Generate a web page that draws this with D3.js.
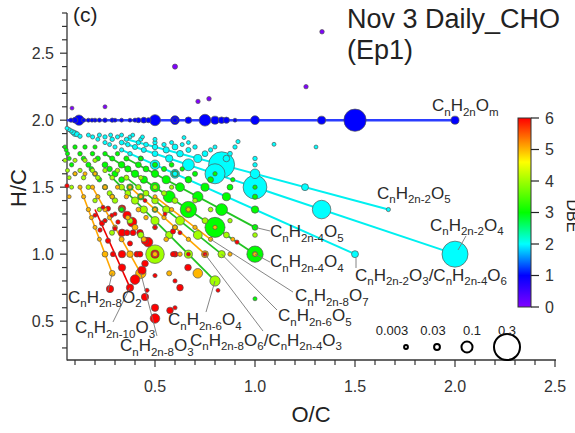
<!DOCTYPE html>
<html><head><meta charset="utf-8">
<script src="https://cdn.jsdelivr.net/npm/d3@7"></script>
<style>body{margin:0;background:#fff}svg{display:block;font-family:Arial,"Liberation Sans",sans-serif}</style>
</head><body><svg id="c" width="575" height="433"></svg>
<script>
// ---------- DATA ----------
const xTickLabels = [0.5, 1.0, 1.5, 2.0, 2.5];
const yTickLabels = [0.5, 1.0, 1.5, 2.0, 2.5];
const dbeTicks = [0, 1, 2, 3, 4, 5, 6];
const sizeLegend = [0.003, 0.03, 0.1, 0.3];

// [O/C, H/C, fraction]
const dbe0Points = [[0.085,2.09,0.004],[0.25,2.10,0.005],[0.6,2.40,0.02],[0.715,2.14,0.01],[0.77,2.16,0.012],[1.335,2.66,0.012],[1.255,2.25,0.01]];
const dbe1Points = [[0.08,2.0,0.01],[0.10,2.0,0.03],[0.12,2.0,0.09],[0.143,2.0,0.008],[0.167,2.0,0.006],[0.185,2.0,0.005],[0.2,2.0,0.006],[0.222,2.0,0.008],[0.25,2.0,0.012],[0.286,2.0,0.01],[0.3,2.0,0.004],[0.333,2.0,0.005],[0.375,2.0,0.004],[0.4,2.0,0.008],[0.417,2.0,0.02],[0.444,2.0,0.03],[0.467,2.0,0.02],[0.5,2.0,0.1],[0.6,2.0,0.07],[0.6,2.0,0.02],[0.667,2.0,0.04],[0.75,2.0,0.11],[0.8,2.0,0.06],[0.833,2.0,0.04],[0.857,2.0,0.035],[0.9,2.0,0.004],[1.0,2.0,0.07],[1.333,2.0,0.06],[1.5,2.0,0.25],[2.0,2.0,0.06]];
const dbe2Points = [[0.06,1.94,0.005],[0.07,1.93,0.008],[0.08,1.92,0.01],[0.09,1.91,0.02],[0.1,1.9,0.03],[0.11,1.895,0.02],[0.125,1.88,0.01],
[0.167,1.889,0.006],[0.222,1.889,0.008],[0.278,1.889,0.006],[0.333,1.889,0.005],[0.389,1.889,0.004],
[0.188,1.875,0.008],[0.25,1.875,0.01],[0.3125,1.875,0.008],[0.375,1.875,0.006],[0.4375,1.875,0.005],
[0.214,1.857,0.006],[0.286,1.857,0.012],[0.357,1.857,0.01],[0.429,1.857,0.008],[0.5,1.857,0.006],
[0.25,1.833,0.008],[0.333,1.833,0.015],[0.417,1.833,0.012],[0.5,1.833,0.01],[0.583,1.833,0.006],[0.667,1.833,0.004],
[0.273,1.818,0.006],[0.364,1.818,0.012],[0.455,1.818,0.015],[0.545,1.818,0.01],[0.636,1.818,0.006],
[0.3,1.8,0.008],[0.4,1.8,0.02],[0.5,1.8,0.025],[0.6,1.8,0.03],[0.7,1.8,0.012],[0.8,1.8,0.006],
[0.333,1.778,0.01],[0.444,1.778,0.02],[0.556,1.778,0.035],[0.667,1.778,0.02],[0.778,1.778,0.01],
[0.375,1.75,0.012],[0.5,1.75,0.03],[0.625,1.75,0.04],[0.75,1.75,0.03],[0.875,1.75,0.015],
[0.429,1.714,0.02],[0.571,1.714,0.05],[0.714,1.714,0.06],[0.857,1.714,0.04],[1.0,1.714,0.012],
[0.5,1.667,0.08],[0.667,1.667,0.11],[0.833,1.667,0.3],[1.0,1.667,0.012],
[0.6,1.6,0.07],[0.6,1.6,0.02],[0.8,1.6,0.22],[1.0,1.6,0.08],
[1.0,1.5,0.27],[1.25,1.5,0.045],[1.333,1.333,0.2],[1.667,1.333,0.008],[1.5,1.0,0.045],[2.0,1.0,0.3],
[0.645,1.87,0.005],[0.9,1.8,0.01],[0.915,1.84,0.008],[1.095,1.82,0.005],[1.305,1.8,0.004]];
const dbe3Points = [[0.05,1.8,0.006],[0.0625,1.75,0.008],[0.071,1.714,0.006],[0.083,1.667,0.01],[0.1,1.6,0.008],[0.056,1.778,0.005],
[0.1,1.8,0.01],[0.125,1.75,0.012],[0.143,1.714,0.015],[0.167,1.667,0.02],[0.182,1.636,0.015],[0.2,1.6,0.02],[0.222,1.556,0.015],[0.25,1.5,0.02],[0.286,1.429,0.015],[0.333,1.333,0.01],
[0.15,1.8,0.01],[0.1875,1.75,0.012],[0.214,1.714,0.02],[0.25,1.667,0.03],[0.273,1.636,0.025],[0.3,1.6,0.035],[0.333,1.556,0.03],[0.375,1.5,0.04],[0.429,1.429,0.04],[0.5,1.333,0.03],[0.6,1.2,0.02],
[0.2,1.8,0.008],[0.25,1.75,0.012],[0.286,1.714,0.02],[0.333,1.667,0.04],[0.364,1.636,0.035],[0.4,1.6,0.05],[0.444,1.556,0.05],[0.5,1.5,0.08],[0.571,1.429,0.11],[0.667,1.333,0.17],[0.8,1.2,0.22],[1.0,1.0,0.17],
[0.3125,1.75,0.01],[0.357,1.714,0.02],[0.417,1.667,0.03],[0.455,1.636,0.03],[0.5,1.6,0.05],[0.556,1.556,0.06],[0.625,1.5,0.07],[0.714,1.429,0.09],[0.833,1.333,0.11],[1.0,1.2,0.03],
[0.429,1.714,0.012],[0.5,1.667,0.02],[0.545,1.636,0.02],[0.6,1.6,0.04],[0.667,1.556,0.04],[0.75,1.5,0.06],[0.857,1.429,0.06],[1.0,1.333,0.05],
[0.583,1.667,0.015],[0.636,1.636,0.012],[0.7,1.6,0.02],[0.778,1.556,0.03],[0.875,1.5,0.03],[1.0,1.429,0.02],
[0.8,1.6,0.01],[0.889,1.556,0.01],[1.0,1.5,0.01],[1.0,0.667,0.006]];
const dbe4Points = [[0.05,1.7,0.005],[0.0625,1.625,0.006],[0.071,1.571,0.005],[0.083,1.5,0.006],
[0.1,1.7,0.008],[0.125,1.625,0.01],[0.143,1.571,0.012],[0.167,1.5,0.015],[0.2,1.4,0.012],[0.222,1.333,0.01],[0.25,1.25,0.008],
[0.15,1.7,0.01],[0.1875,1.625,0.012],[0.214,1.571,0.015],[0.25,1.5,0.02],[0.273,1.455,0.02],[0.3,1.4,0.025],[0.333,1.333,0.03],[0.375,1.25,0.03],[0.429,1.143,0.035],[0.5,1.0,0.2],
[0.2,1.7,0.01],[0.25,1.625,0.012],[0.286,1.571,0.015],[0.333,1.5,0.03],[0.364,1.455,0.03],[0.4,1.4,0.05],[0.444,1.333,0.05],[0.5,1.25,0.06],[0.571,1.143,0.05],[0.667,1.0,0.06],[0.8,0.8,0.09],
[0.3125,1.625,0.012],[0.357,1.571,0.02],[0.417,1.5,0.025],[0.455,1.455,0.03],[0.5,1.4,0.04],[0.556,1.333,0.05],[0.625,1.25,0.07],[0.714,1.143,0.07],[0.833,1.0,0.05],
[0.429,1.571,0.012],[0.5,1.5,0.02],[0.545,1.455,0.02],[0.6,1.4,0.03],[0.667,1.333,0.03],[0.75,1.25,0.03],[0.857,1.143,0.03],[1.0,1.0,0.02],
[0.583,1.5,0.01],[0.7,1.4,0.015],[0.778,1.333,0.015],[0.875,1.25,0.012],[1.0,1.143,0.015],[0.285,1.16,0.02]];
const dbe5Points = [[0.071,1.429,0.004],
[0.1,1.6,0.006],[0.125,1.5,0.008],[0.143,1.429,0.008],[0.167,1.333,0.01],[0.182,1.273,0.008],[0.2,1.2,0.006],[0.222,1.111,0.006],[0.25,1.0,0.03],[0.286,0.857,0.03],
[0.15,1.6,0.006],[0.1875,1.5,0.01],[0.214,1.429,0.01],[0.25,1.333,0.012],[0.273,1.273,0.012],[0.3,1.2,0.015],[0.333,1.111,0.02],[0.375,1.0,0.04],[0.429,0.857,0.09],
[0.2,1.6,0.006],[0.25,1.5,0.01],[0.286,1.429,0.012],[0.333,1.333,0.015],[0.364,1.273,0.015],[0.4,1.2,0.03],[0.444,1.111,0.02],[0.5,1.0,0.02],[0.571,0.857,0.02],
[0.3125,1.5,0.008],[0.357,1.429,0.01],[0.417,1.333,0.015],[0.455,1.273,0.012],[0.5,1.2,0.015],[0.556,1.111,0.015],[0.625,1.0,0.012],[0.714,0.857,0.08],
[0.375,1.5,0.008],[0.429,1.429,0.008],[0.5,1.333,0.01],[0.545,1.273,0.01],[0.6,1.2,0.012],[0.667,1.111,0.01],[0.75,1.0,0.045],
[0.5,1.429,0.006],[0.583,1.333,0.008],[0.7,1.2,0.01],[0.778,1.111,0.01],[0.875,1.0,0.008],
[0.667,1.333,0.01],[0.8,1.2,0.008],[0.889,1.111,0.006],[1.0,1.0,0.01]];
const dbe6Points = [[0.06,1.51,0.01],
[0.2,1.29,0.006],[0.235,1.23,0.02],[0.265,1.34,0.02],[0.225,1.18,0.01],[0.265,1.10,0.02],[0.335,1.34,0.05],[0.36,1.29,0.06],[0.385,1.24,0.08],[0.315,1.24,0.01],[0.335,1.16,0.05],[0.36,1.16,0.03],[0.39,1.16,0.03],[0.425,1.16,0.04],[0.375,1.08,0.02],[0.45,1.1,0.05],[0.465,1.09,0.08],[0.335,1.0,0.05],[0.29,1.0,0.02],[0.41,1.0,0.03],[0.425,1.0,0.03],[0.5,1.0,0.06],[0.335,0.9,0.05],[0.4,0.81,0.08],[0.45,0.93,0.04],[0.435,0.88,0.06],[0.3,1.19,0.008],[0.285,1.29,0.008],[0.24,1.35,0.006],
[0.275,0.74,0.05],[0.375,0.75,0.05],[0.45,0.68,0.05],[0.46,0.73,0.008],[0.5,0.6,0.05],[0.5,0.52,0.08],[0.575,0.58,0.04],[0.6,0.6,0.008],[0.5,0.84,0.008],[0.6,0.8,0.008],[0.625,0.75,0.04],[0.665,0.9,0.04],[0.815,0.73,0.004],[0.59,1.0,0.02],[0.667,1.0,0.004],[0.6,1.0,0.03],[0.59,1.17,0.02],[0.625,1.16,0.006],[0.91,1.09,0.008],[0.75,1.0,0.006],[0.5,1.2,0.006],[0.25,1.25,0.006],[0.3,1.3,0.006],[0.45,1.4,0.004],[0.55,1.3,0.004]];

// homologous-series lines: [name, dbe colour class, start [O/C,H/C], end [O/C,H/C]]
const seriesNames = ["CnH2nOm","CnH2n-2O5","CnH2n-2O4","CnH2n-2O3","CnH2n-4O5","CnH2n-4O4","CnH2n-8O6","CnH2n-6O5","CnH2n-6O4","CnH2n-8O7","CnH2n-8O3","CnH2n-8O2","CnH2n-10O3"];
const seriesClass = ["blue","cyan","cyan","cyan","green","green","orange","green","green","orange","orange","orange","red"];
const seriesStart = [[0.06,2.0],[0.357,1.857],[0.333,1.833],[0.333,1.778],[0.357,1.714],[0.25,1.75],[0.375,1.5],[0.357,1.571],[0.267,1.6],[0.5,1.429],[0.19,1.493],[0.125,1.5],[0.2,1.333]];
const seriesEnd = [[2.0,2.0],[1.667,1.333],[2.0,1.0],[1.5,1.0],[1.0,1.2],[1.0,1.0],[0.75,1.0],[0.833,1.0],[0.8,0.8],[0.778,1.111],[0.429,0.857],[0.286,0.857],[0.375,0.75]];

// annotations: text ({} = subscript), text anchor [O/C,H/C], leader from [O/C,H/C] to [O/C,H/C]
const annText = ["C{n}H{2n}O{m}","C{n}H{2n-2}O{5}","C{n}H{2n-2}O{4}","C{n}H{2n-2}O{3}/C{n}H{2n-4}O{6}","C{n}H{2n-8}O{7}","C{n}H{2n-6}O{5}","C{n}H{2n-8}O{6}/C{n}H{2n-4}O{3}","C{n}H{2n-8}O{3}","C{n}H{2n-10}O{3}","C{n}H{2n-8}O{2}","C{n}H{2n-6}O{4}","C{n}H{2n-4}O{5}","C{n}H{2n-4}O{4}"];
const annAt = [[1.885,2.068],[1.61,1.412],[1.875,1.173],[1.5,0.800],[1.2,0.650],[1.115,0.501],[0.675,0.3145],[0.325,0.277],[0.1,0.4115],[0.065,0.6355],[0.565,0.471],[1.075,1.128],[1.075,0.904]];
const leaderFrom = [null,null,[2.015,1.031],[1.505,0.971],[0.778,1.111],[0.833,1.0],[0.75,1.0],[0.429,0.857],[0.375,0.75],[0.286,0.857],[0.8,0.8],[1.0,1.2],[1.0,1.0]];
const leaderTo = [null,null,[2.055,1.136],[1.505,0.897],[1.19,0.717],[1.11,0.583],[1.04,0.426],[0.51,0.389],[0.29,0.494],[0.265,0.725],[0.755,0.568],[1.075,1.173],[1.075,0.941]];

// ---------- DRAW ----------
const svg = d3.select("#c");
const x = d3.scaleLinear().domain([0.06, 2.5]).range([67, 555]);
const y = d3.scaleLinear().domain([0.21, 2.8]).range([360, 13]);
const r = d3.scaleLinear().domain([0, 0.3]).range([1.8, 13]);
const colorStops = [[0,"#8000ff"],[1,"#0000ff"],[2,"#00ffff"],[3,"#00ff00"],[4.6,"#ffff00"],[6,"#ff0000"]];
const color = d3.scaleLinear().domain(colorStops.map(d=>d[0])).range(colorStops.map(d=>d[1])).clamp(true);
const lineColor = {blue:"#2b3dff", cyan:"#00f0f0", green:"#22c422", orange:"#ffa600", red:"#f00000"};
const lineWidth = {blue:2.5, cyan:2, green:1.8, orange:1.6, red:1.6};
const ink = "#222";

// axes
const minorX = d3.range(1, 26).map(v => v / 10);
const minorY = d3.range(3, 29).map(v => v / 10);
const isMajor = v => Math.abs(v * 2 - Math.round(v * 2)) < 1e-6;
const gx = svg.append("g").attr("transform", "translate(0,360)");
gx.append("line").attr("x1", 67).attr("x2", 556).attr("stroke", "#333").attr("stroke-width", 1.3);
gx.selectAll(".t").data(minorX).join("line").attr("x1", d=>x(d)).attr("x2", d=>x(d)).attr("y1", 0).attr("y2", d=>isMajor(d)?7:5).attr("stroke","#333").attr("stroke-width",1.2);
gx.selectAll(".l").data(xTickLabels).join("text").attr("x", d=>x(d)).attr("y", 32).attr("text-anchor","middle").attr("font-size",16).attr("fill","#333").text(d=>d.toFixed(1));
const gy = svg.append("g").attr("transform", "translate(67,0)");
gy.append("line").attr("y1", 13).attr("y2", 360.6).attr("stroke", "#333").attr("stroke-width", 1.3);
gy.selectAll(".t").data(minorY).join("line").attr("y1", d=>y(d)).attr("y2", d=>y(d)).attr("x1", 0).attr("x2", d=>isMajor(d)?-7:-5).attr("stroke","#333").attr("stroke-width",1.2);
gy.selectAll(".l").data(yTickLabels).join("text").attr("x", -13).attr("y", d=>y(d)).attr("dy","0.36em").attr("text-anchor","end").attr("font-size",16).attr("fill","#333").text(d=>d.toFixed(1));

svg.append("text").attr("x", 311).attr("y", 422).attr("text-anchor","middle").attr("font-size",22).attr("fill",ink).text("O/C");
svg.append("text").attr("transform","translate(26,188) rotate(-90)").attr("text-anchor","middle").attr("font-size",22).attr("fill",ink).text("H/C");
svg.append("text").attr("x", 73).attr("y", 22).attr("font-size",21).attr("fill",ink).text("(c)");
svg.append("text").attr("x", 347).attr("y", 28).attr("font-size",27).attr("fill",ink).text("Nov 3 Daily_CHO");
svg.append("text").attr("x", 347).attr("y", 59).attr("font-size",27).attr("fill",ink).text("(Ep1)");

// series lines
const gl = svg.append("g");
seriesNames.forEach((n, i) => {
  gl.append("line").attr("x1", x(seriesStart[i][0])).attr("y1", y(seriesStart[i][1]))
    .attr("x2", x(seriesEnd[i][0])).attr("y2", y(seriesEnd[i][1]))
    .attr("stroke", lineColor[seriesClass[i]]).attr("stroke-width", lineWidth[seriesClass[i]]);
});

// points
const groups = [dbe0Points, dbe1Points, dbe2Points, dbe3Points, dbe4Points, dbe5Points, dbe6Points];
const pts = groups.flatMap((g, dbe) => g.map(p => ({oc:p[0], hc:p[1], f:p[2], dbe})));
pts.sort((a, b) => b.f - a.f);
svg.append("g").selectAll("circle").data(pts).join("circle")
  .attr("cx", d=>x(d.oc)).attr("cy", d=>y(d.hc)).attr("r", d=>r(d.f))
  .attr("fill", d=>color(d.dbe)).attr("stroke", "#555").attr("stroke-width", 0.7);

// leaders + annotations
const ga = svg.append("g");
annText.forEach((t, i) => {
  if (leaderFrom[i]) {
    ga.append("line").attr("x1", x(leaderFrom[i][0])).attr("y1", y(leaderFrom[i][1]))
      .attr("x2", x(leaderTo[i][0])).attr("y2", y(leaderTo[i][1]))
      .attr("stroke", "#777").attr("stroke-width", 0.9);
  }
  const txt = ga.append("text").attr("x", x(annAt[i][0])).attr("y", y(annAt[i][1])).attr("font-size", 17).attr("fill", "#2a2a2a");
  const re = /([^{}]+)|\{([^}]*)\}/g; let m; let sub = false;
  while ((m = re.exec(t)) !== null) {
    if (m[1] !== undefined) {
      txt.append("tspan").attr("dy", sub ? -4.5 : 0).attr("font-size", 17).text(m[1]); sub = false;
    } else {
      txt.append("tspan").attr("dy", sub ? 0 : 4.5).attr("font-size", 11.5).text(m[2]); sub = true;
    }
  }
});

// colour bar
const defs = svg.append("defs");
const grad = defs.append("linearGradient").attr("id","cb").attr("x1",0).attr("y1",1).attr("x2",0).attr("y2",0);
d3.range(0, 61).forEach(i => grad.append("stop").attr("offset", i/60).attr("stop-color", color(i/10)));
const cb = d3.scaleLinear().domain([0, 6]).range([307, 118]);
svg.append("rect").attr("x", 518).attr("y", 118).attr("width", 13).attr("height", 189).attr("fill","url(#cb)").attr("stroke","#333").attr("stroke-width",1);
svg.selectAll(".cbt").data(dbeTicks).join("line").attr("x1",531).attr("x2",539).attr("y1",d=>cb(d)).attr("y2",d=>cb(d)).attr("stroke","#222").attr("stroke-width",1.2);
svg.selectAll(".cbl").data(dbeTicks).join("text").attr("x",545).attr("y",d=>cb(d)).attr("dy","0.36em").attr("font-size",16).attr("fill","#333").text(d=>d);
svg.append("text").attr("transform","translate(567,216) rotate(90)").attr("text-anchor","middle").attr("font-size",16).attr("fill",ink).text("DBE");

// size legend
const legX = [406, 437, 467, 507];
const legLabX = [392, 433, 472, 507];
sizeLegend.forEach((v, i) => {
  svg.append("circle").attr("cx", legX[i]).attr("cy", 347).attr("r", r(v)).attr("fill","#fff").attr("stroke","#000").attr("stroke-width", 2);
  svg.append("text").attr("x", legLabX[i]).attr("y", 335).attr("text-anchor","middle").attr("font-size",13).attr("fill",ink).text(v);
});
</script></body></html>
